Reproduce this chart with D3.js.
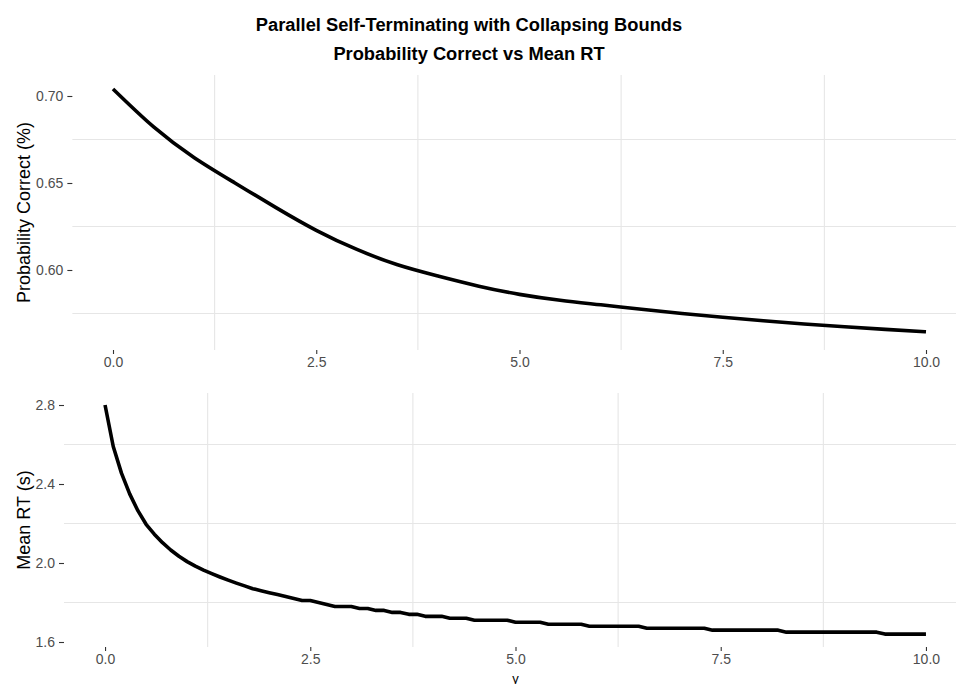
<!DOCTYPE html>
<html>
<head>
<meta charset="utf-8">
<script src="https://cdn.jsdelivr.net/npm/d3@7"></script>
<style>
  html, body { margin: 0; padding: 0; background: #ffffff; }
  svg { display: block; }
</style>
</head>
<body>
<svg id="chart" width="956" height="684"></svg>
<script>
// Collapsing-bound parameter (gamma) values and model outputs
const gammaCoarse = [0, 0.5, 1, 1.5, 2, 2.5, 3, 3.5, 4, 4.5, 5, 5.5, 6, 6.5, 7, 7.5, 8, 8.5, 9, 9.5, 10];
const probCorrect = [0.7040, 0.6822, 0.6645, 0.6500, 0.6360, 0.6228, 0.6118, 0.6030, 0.5965, 0.5907,
                     0.5860, 0.5826, 0.5800, 0.5774, 0.5750, 0.5728, 0.5708, 0.5690, 0.5674, 0.5659, 0.5645];

const gammaFine = [
  0.0, 0.1, 0.2, 0.3, 0.4, 0.5, 0.6, 0.7, 0.8, 0.9,
  1.0, 1.1, 1.2, 1.3, 1.4, 1.5, 1.6, 1.7, 1.8, 1.9,
  2.0, 2.1, 2.2, 2.3, 2.4, 2.5, 2.6, 2.7, 2.8, 2.9,
  3.0, 3.1, 3.2, 3.3, 3.4, 3.5, 3.6, 3.7, 3.8, 3.9,
  4.0, 4.1, 4.2, 4.3, 4.4, 4.5, 4.6, 4.7, 4.8, 4.9,
  5.0, 5.1, 5.2, 5.3, 5.4, 5.5, 5.6, 5.7, 5.8, 5.9,
  6.0, 6.1, 6.2, 6.3, 6.4, 6.5, 6.6, 6.7, 6.8, 6.9,
  7.0, 7.1, 7.2, 7.3, 7.4, 7.5, 7.6, 7.7, 7.8, 7.9,
  8.0, 8.1, 8.2, 8.3, 8.4, 8.5, 8.6, 8.7, 8.8, 8.9,
  9.0, 9.1, 9.2, 9.3, 9.4, 9.5, 9.6, 9.7, 9.8, 9.9,
  10.0
];
const meanRT = [
  2.800, 2.590, 2.455, 2.350, 2.265, 2.196, 2.146, 2.103, 2.066, 2.034,
  2.007, 1.984, 1.964, 1.946, 1.929, 1.913, 1.898, 1.884, 1.87, 1.86,
  1.85, 1.84, 1.83, 1.82, 1.81, 1.81, 1.80, 1.79, 1.78, 1.78,
  1.78, 1.77, 1.77, 1.76, 1.76, 1.75, 1.75, 1.74, 1.74, 1.73,
  1.73, 1.73, 1.72, 1.72, 1.72, 1.71, 1.71, 1.71, 1.71, 1.71,
  1.70, 1.70, 1.70, 1.70, 1.69, 1.69, 1.69, 1.69, 1.69, 1.68,
  1.68, 1.68, 1.68, 1.68, 1.68, 1.68, 1.67, 1.67, 1.67, 1.67,
  1.67, 1.67, 1.67, 1.67, 1.66, 1.66, 1.66, 1.66, 1.66, 1.66,
  1.66, 1.66, 1.66, 1.65, 1.65, 1.65, 1.65, 1.65, 1.65, 1.65,
  1.65, 1.65, 1.65, 1.65, 1.65, 1.64, 1.64, 1.64, 1.64, 1.64,
  1.64
];

const xTicks = [0, 2.5, 5, 7.5, 10];
const xMinor = [1.25, 3.75, 6.25, 8.75];
const probTicks = [0.60, 0.65, 0.70];
const probMinor = [0.575, 0.625, 0.675];
const rtTicks = [1.6, 2.0, 2.4, 2.8];
const rtMinor = [1.8, 2.2, 2.6];

const titleLines = ["Parallel Self-Terminating with Collapsing Bounds", "Probability Correct vs Mean RT"];

const svg = d3.select("#chart");
svg.append("rect").attr("width", 956).attr("height", 684).attr("fill", "#ffffff");

const FONT = "'Liberation Sans', Arial, Helvetica, sans-serif";
const GRID = "#e6e6e6";

// Title (two centred lines)
const title = svg.append("text")
  .attr("x", 469)
  .attr("text-anchor", "middle")
  .attr("font-family", FONT)
  .attr("font-weight", "bold")
  .attr("font-size", 18.3)
  .attr("fill", "#000000");
title.selectAll("tspan").data(titleLines).join("tspan")
  .attr("x", 469)
  .attr("y", (d, i) => 31 + i * 29)
  .text(d => d);

function drawPanel(cfg) {
  const x = d3.scaleLinear().domain([-0.5, 10.5]).range([cfg.left, cfg.right]);
  const y = d3.scaleLinear().domain(cfg.yDomain).range([cfg.bottom, cfg.top]);
  const g = svg.append("g");

  // minor grid lines only
  g.selectAll(".vgrid").data(xMinor).join("line")
    .attr("x1", d => x(d)).attr("x2", d => x(d))
    .attr("y1", cfg.top).attr("y2", cfg.bottom)
    .attr("stroke", GRID).attr("stroke-width", 1.1);
  g.selectAll(".hgrid").data(cfg.yMinor).join("line")
    .attr("x1", cfg.left).attr("x2", cfg.right)
    .attr("y1", d => y(d)).attr("y2", d => y(d))
    .attr("stroke", GRID).attr("stroke-width", 1.1);

  // axes
  const xAxis = g.append("g")
    .attr("transform", `translate(0,${cfg.bottom})`)
    .call(d3.axisBottom(x).tickValues(xTicks).tickFormat(d3.format(".1f")).tickSize(4).tickPadding(3));
  const yAxis = g.append("g")
    .attr("transform", `translate(${cfg.left},0)`)
    .call(d3.axisLeft(y).tickValues(cfg.yTicks).tickFormat(d3.format(cfg.yFormat)).tickSize(5).tickPadding(4));
  [xAxis, yAxis].forEach(a => {
    a.select(".domain").remove();
    a.selectAll(".tick line").attr("stroke", "#333333").attr("stroke-width", 1.1);
    a.selectAll(".tick text")
      .attr("fill", "#4d4d4d")
      .attr("font-family", FONT)
      .attr("font-size", 14);
  });

  // y axis title
  svg.append("text")
    .attr("transform", `translate(29.5,${(cfg.top + cfg.bottom) / 2}) rotate(-90)`)
    .attr("text-anchor", "middle")
    .attr("font-family", FONT)
    .attr("font-size", 18)
    .attr("fill", "#000000")
    .text(cfg.yLabel);

  // series line
  const pts = cfg.xs.map((d, i) => [d, cfg.ys[i]]);
  g.append("path")
    .datum(pts)
    .attr("fill", "none")
    .attr("stroke", "#000000")
    .attr("stroke-width", 3.6)
    .attr("stroke-linejoin", "round")
    .attr("stroke-linecap", "butt")
    .attr("d", d3.line().x(d => x(d[0])).y(d => y(d[1])).curve(cfg.curve));

  return { x, y };
}

drawPanel({
  left: 72.35, right: 966.65, top: 75, bottom: 350,
  yDomain: [0.55402, 0.71207],
  yTicks: probTicks, yMinor: probMinor, yFormat: ".2f",
  yLabel: "Probability Correct (%)",
  xs: gammaCoarse, ys: probCorrect, curve: d3.curveNatural
});

drawPanel({
  left: 64, right: 967, top: 393, bottom: 647,
  yDomain: [1.5747, 2.8608],
  yTicks: rtTicks, yMinor: rtMinor, yFormat: ".1f",
  yLabel: "Mean RT (s)",
  xs: gammaFine, ys: meanRT, curve: d3.curveLinear
});

// x axis title
svg.append("text")
  .attr("x", (64 + 967) / 2)
  .attr("y", 683)
  .attr("text-anchor", "middle")
  .attr("font-family", FONT)
  .attr("font-size", 13)
  .attr("fill", "#000000")
  .text("γ");
</script>
</body>
</html>
